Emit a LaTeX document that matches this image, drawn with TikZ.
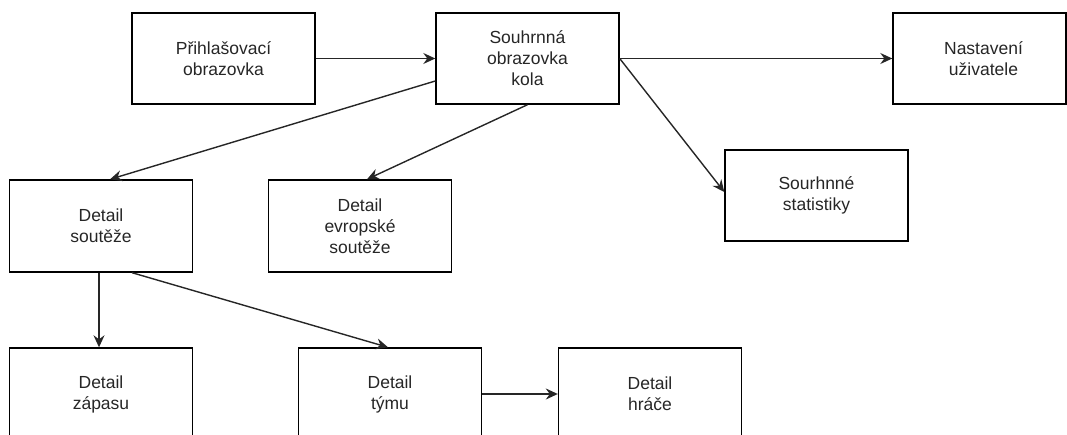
\documentclass[tikz,border=0pt]{standalone}
\usepackage{fontspec}
\setmainfont{Liberation Sans}
\usetikzlibrary{arrows.meta}

\begin{document}
\begin{tikzpicture}[x=1pt, y=-1pt,
  screen/.style={draw=black, line width=1.4pt, minimum width=183pt, minimum height=91pt,
    inner sep=0pt, align=center, text=black!85,
    font=\fontsize{17.5}{21}\selectfont},
  label text/.style={inner sep=0pt, align=center, text=black!85,
    font=\fontsize{17.5}{21}\selectfont},
  link/.style={draw=black!85, line width=1.4pt,
    -{Stealth[length=12pt, width=11pt, inset=4pt]}}
]
\useasboundingbox (0,0) rectangle (1067,435);
\clip (0,0) rectangle (1067,435);

% top row
\node[screen] (login)   at (223.5,58.5) {Přihlašovací\\obrazovka};
\node[screen] (summary) at (527.5,58.5) {Souhrnná\\obrazovka\\kola};
\node[screen, minimum width=173pt] (settings) at (979.5,58.5) {};
\node[label text] (settingstext) at (983.5,58.5) {Nastavení\\uživatele};
\node[screen] (stats)   at (816.5,195.5) {Sourhnné\\statistiky};

% competitions
\node[screen, minimum height=92pt] (comp) at (101,226) {Detail\\soutěže};
\node[screen, minimum height=92pt] (euro) at (360,226) {Detail\\evropské\\soutěže};

% bottom row
\node[screen, minimum height=92pt] (match)  at (101,394) {Detail\\zápasu};
\node[screen, minimum height=92pt] (team)   at (390,394) {Detail\\týmu};
\node[screen, minimum height=92pt] (player) at (650,394) {Detail\\hráče};

% connectors
\draw[link] (login.east) -- (summary.west);
\draw[link] (summary.east) -- (settings.west);
\draw[link] (summary.east) -- ([yshift=3.5pt]stats.west);
\draw[link] ([yshift=-22.5pt]summary.west) -- ([xshift=9pt]comp.north);
\draw[link] (summary.south) -- ([xshift=7pt]euro.north);
\draw[link] ([xshift=-2pt]comp.south) -- ([xshift=-2pt]match.north);
\draw[link] ([xshift=31pt]comp.south) -- ([xshift=-2pt]team.north);
\draw[link] (team.east) -- (player.west);
\end{tikzpicture}
\end{document}
